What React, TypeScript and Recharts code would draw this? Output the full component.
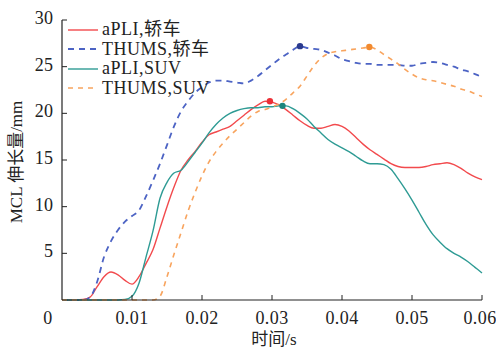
import React from "react";
import { LineChart, Line, XAxis, YAxis, ReferenceDot } from "recharts";

const FONT = "'Liberation Serif', 'Times New Roman', 'Noto Sans CJK SC', serif";
const AXIS = "#222";

// time grid (s)
const times = [
  0, 0.001, 0.002, 0.003, 0.004, 0.005, 0.006, 0.007, 0.008, 0.009,
  0.01, 0.011, 0.012, 0.013, 0.014, 0.015, 0.016, 0.017, 0.018, 0.019,
  0.02, 0.021, 0.022, 0.023, 0.024, 0.025, 0.026, 0.027, 0.028, 0.029,
  0.03, 0.031, 0.032, 0.033, 0.034, 0.035, 0.036, 0.037, 0.038, 0.039,
  0.04, 0.041, 0.042, 0.043, 0.044, 0.045, 0.046, 0.047, 0.048, 0.049,
  0.05, 0.051, 0.052, 0.053, 0.054, 0.055, 0.056, 0.057, 0.058, 0.059, 0.06,
];

// MCL elongation (mm)
const apliCar = [
  0, 0, 0, 0.05, 0.3, 1.4, 2.5, 3.0, 2.7, 2.1,
  1.7, 2.5, 3.9, 5.4, 7.7, 10.0, 12.1, 13.9, 15.0, 15.9,
  16.9, 17.7, 18.0, 18.3, 18.6, 19.2, 19.8, 20.4, 20.9, 21.3,
  21.2, 20.9, 20.4, 19.8, 19.2, 18.7, 18.4, 18.4, 18.6, 18.8,
  18.6, 18.1, 17.4, 16.7, 16.1, 15.6, 15.1, 14.6, 14.3, 14.2,
  14.2, 14.2, 14.3, 14.5, 14.6, 14.7, 14.5, 14.1, 13.6, 13.2, 12.9,
];
const thumsCar = [
  0, 0, 0, 0, 0.3, 1.9, 4.6, 6.3, 7.5, 8.4,
  9.0, 9.6, 11.1, 12.8, 14.6, 16.6, 18.6, 20.2, 21.3, 22.2,
  22.8, 23.3, 23.5, 23.5, 23.4, 23.3, 23.2, 23.5, 24.0, 24.6,
  25.2, 25.8, 26.3, 26.8, 27.2, 27.0, 26.9, 26.8, 26.5, 26.2,
  25.8, 25.6, 25.4, 25.3, 25.3, 25.2, 25.2, 25.2, 25.2, 25.1,
  25.1, 25.3, 25.4, 25.5, 25.4, 25.2, 25.0, 24.7, 24.5, 24.2, 23.9,
];
const apliSuv = [
  0, 0, 0, 0, 0, 0, 0, 0, 0, 0.05,
  0.4, 1.8, 4.6, 7.4, 10.9, 12.6, 13.6, 13.9, 14.8, 15.8,
  16.8, 17.9, 18.8, 19.5, 20.0, 20.3, 20.5, 20.6, 20.6, 20.7,
  20.7, 20.8, 20.8, 20.5, 20.0, 19.4, 18.6, 17.9, 17.2, 16.7,
  16.3, 15.9, 15.4, 14.9, 14.6, 14.6, 14.5, 14.0, 13.0, 11.9,
  10.7, 9.4, 8.1, 7.0, 6.2, 5.5, 5.0, 4.6, 4.1, 3.5, 2.9,
];
const thumsSuv = [
  0, 0, 0, 0, 0, 0, 0, 0, 0, 0,
  0, 0, 0, 0, 0.4, 2.5, 4.9, 7.2, 9.5, 11.5,
  13.3, 14.8, 15.9, 16.8, 17.6, 18.3, 19.0, 19.7, 20.2, 20.4,
  20.7, 21.0, 21.5, 22.2, 22.9, 24.0, 25.1, 25.9, 26.4, 26.6,
  26.7, 26.8, 26.9, 27.0, 27.1, 26.8, 26.3, 25.8, 25.3, 24.7,
  24.2, 23.8, 23.6, 23.5, 23.3, 23.1, 22.9, 22.6, 22.4, 22.1, 21.8,
];

// peak markers: aPLI 轿车, THUMS 轿车, aPLI SUV, THUMS SUV
const peakTimes = [0.0297, 0.034, 0.0315, 0.0439];
const peakValues = [21.3, 27.2, 20.8, 27.1];

const xTicks = [0, 0.01, 0.02, 0.03, 0.04, 0.05, 0.06];
const yTicks = [5, 10, 15, 20, 25, 30];

const series = [
  { key: "apliCar", name: "aPLI,轿车", color: "#f24a4d", dot: "#ec2f36", dash: undefined, width: 1.4 },
  { key: "thumsCar", name: "THUMS,轿车", color: "#4c63c4", dot: "#2a3a8e", dash: "6 5", width: 1.8 },
  { key: "apliSuv", name: "aPLI,SUV", color: "#2e9b94", dot: "#1d857d", dash: undefined, width: 1.4 },
  { key: "thumsSuv", name: "THUMS,SUV", color: "#f8a45e", dot: "#f28a2e", dash: "5 5", width: 1.6 },
];

const data = times.map((t, i) => ({
  t,
  apliCar: apliCar[i],
  thumsCar: thumsCar[i],
  apliSuv: apliSuv[i],
  thumsSuv: thumsSuv[i],
}));

function XTick(props: any) {
  const { x, y, payload } = props;
  const v = payload.value;
  return (
    <g>
      {v !== 0 && <line x1={x} y1={y} x2={x} y2={y - 5} stroke={AXIS} strokeWidth={1} />}
      <text x={v === 0 ? x - 14 : v === 0.06 ? x - 2 : x} y={y + 23.5} textAnchor="middle" fontSize={18} letterSpacing={0.4} fontFamily={FONT} fill="#222">
        {v === 0 ? "0" : v.toFixed(2)}
      </text>
    </g>
  );
}

function YTick(props: any) {
  const { x, y, payload } = props;
  return (
    <g>
      <line x1={x} y1={y} x2={x + 5} y2={y} stroke={AXIS} strokeWidth={1} />
      <text x={x - 8.5} y={y + 4} textAnchor="end" fontSize={18} letterSpacing={0.4} fontFamily={FONT} fill="#222">
        {payload.value}
      </text>
    </g>
  );
}

function AxisTitle(props: any) {
  const { tx, ty, text, rot } = props;
  return (
    <text
      x={tx}
      y={ty}
      transform={rot ? `rotate(-90, ${tx}, ${ty})` : undefined}
      textAnchor="middle"
      dominantBaseline="central"
      fontSize={17}
      fontFamily={FONT}
      fill="#222"
    >
      {text}
    </text>
  );
}

function LegendBox() {
  return (
    <div style={{ position: "absolute", left: 66, top: 20, fontFamily: FONT, fontSize: 18, lineHeight: "19.5px", letterSpacing: 0.5, color: "#222" }}>
      {series.map((s) => (
        <div key={s.key} style={{ display: "flex", alignItems: "center", height: 19.5, whiteSpace: "nowrap" }}>
          <svg width={34} height={6} style={{ marginRight: 2 }}>
            <line x1={2} y1={3} x2={32} y2={3} stroke={s.color} strokeWidth={s.width} strokeDasharray={s.dash} />
          </svg>
          <span>{s.name}</span>
        </div>
      ))}
    </div>
  );
}

export default function App() {
  return (
    <div style={{ position: "absolute", left: 0, top: 0, width: 496, height: 347, background: "#fff" }}>
      <LineChart width={496} height={347} data={data} margin={{ top: 20, right: 14, bottom: 7, left: 12 }}>
        <XAxis
          dataKey="t"
          type="number"
          domain={[0, 0.06]}
          ticks={xTicks}
          height={40}
          tickSize={0}
          tickMargin={0}
          tickLine={false}
          tick={<XTick />}
          axisLine={{ stroke: AXIS, strokeWidth: 1.2 }}
          label={<AxisTitle tx={274} ty={339} text="时间/s" />}
        />
        <YAxis
          type="number"
          domain={[0, 30]}
          ticks={yTicks}
          width={50}
          tickSize={0}
          tickMargin={0}
          tickLine={false}
          tick={<YTick />}
          axisLine={{ stroke: AXIS, strokeWidth: 1.2 }}
          label={<AxisTitle tx={16} ty={162} text="MCL 伸长量/mm" rot />}
        />
        {series.map((s) => (
          <Line
            key={s.key}
            dataKey={s.key}
            type="monotone"
            stroke={s.color}
            strokeWidth={s.width}
            strokeDasharray={s.dash}
            dot={false}
            activeDot={false}
            isAnimationActive={false}
          />
        ))}
        {series.map((s, i) => (
          <ReferenceDot key={"p" + s.key} x={peakTimes[i]} y={peakValues[i]} r={3.2} fill={s.dot} stroke="none" />
        ))}
      </LineChart>
      <LegendBox />
    </div>
  );
}
